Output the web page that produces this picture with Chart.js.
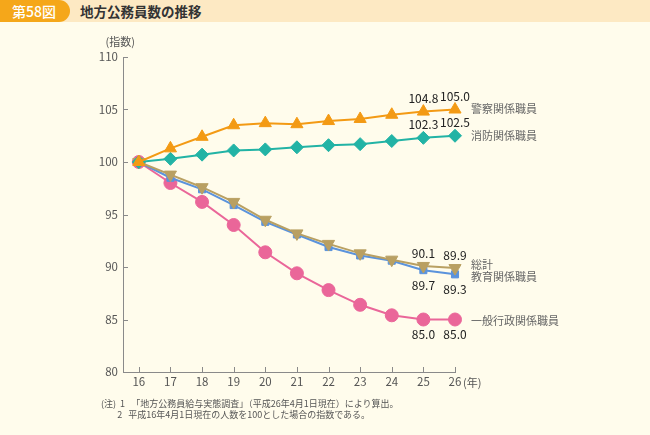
<!DOCTYPE html>
<html lang="ja">
<head>
<meta charset="utf-8">
<script src="https://cdn.jsdelivr.net/npm/chart.js@4/dist/chart.umd.min.js"></script>
<style>
  html, body { margin: 0; padding: 0; background: #fffcec; }
  body { width: 650px; height: 435px; position: relative; overflow: hidden;
         font-family: "Noto Sans CJK JP", "Noto Sans", sans-serif; }
  #band { position: absolute; left: 0; top: 0; width: 650px; height: 22px; background: #fde9c3; }
  #tab { position: absolute; left: 0; top: 0; width: 70px; height: 22px; background: #f5a71a;
         border-radius: 0 11px 11px 0; color: #fff; font-size: 14px; font-weight: 500;
         line-height: 22px; padding-left: 12px; box-sizing: border-box; }
  #title { position: absolute; left: 80px; top: 0; line-height: 22px; font-size: 13.5px;
           font-weight: bold; color: #333; }
  #wrap { position: absolute; left: 0; top: 0; width: 650px; height: 435px; }
  .note { position: absolute; font-size: 9px; line-height: 10px; color: #555; white-space: pre; }
</style>
</head>
<body>
<div id="band"></div>
<div id="tab">第58図</div>
<div id="title">地方公務員数の推移</div>
<div id="wrap"><canvas id="chart" width="650" height="435"></canvas></div>
<div class="note" style="left:101px; top:399px;">(注)  1   「地方公務員給与実態調査」（平成26年4月1日現在）により算出。</div>
<div class="note" style="left:101px; top:410px;">        2   平成16年4月1日現在の人数を100とした場合の指数である。</div>
<script>
// data
var years = [16, 17, 18, 19, 20, 21, 22, 23, 24, 25, 26];
var yTicks = [80, 85, 90, 95, 100, 105, 110];
var police = [100, 101.3, 102.4, 103.5, 103.7, 103.6, 103.9, 104.1, 104.5, 104.8, 105.0];
var fire = [100, 100.3, 100.7, 101.1, 101.2, 101.4, 101.6, 101.7, 102.0, 102.3, 102.5];
var total = [100, 98.8, 97.6, 96.2, 94.5, 93.2, 92.2, 91.3, 90.7, 90.1, 89.9];
var education = [100, 98.5, 97.4, 95.9, 94.3, 93.1, 91.9, 91.1, 90.6, 89.7, 89.3];
var general = [100, 98.0, 96.2, 94.0, 91.4, 89.4, 87.8, 86.4, 85.4, 85.0, 85.0];
var seriesNames = ['警察関係職員', '消防関係職員', '総計', '教育関係職員', '一般行政関係職員'];

function pts(arr) {
    return arr.map(function (v, i) { return { x: years[i], y: v }; });
}

var axisColor = '#8a8a8a';

// small inward ticks on both axes
var innerTicks = {
    id: 'innerTicks',
    afterDraw: function (chart) {
        var ctx = chart.ctx, xs = chart.scales.x, ys = chart.scales.y;
        var area = chart.chartArea;
        ctx.save();
        ctx.strokeStyle = axisColor;
        ctx.lineWidth = 1;
        ctx.beginPath();
        years.forEach(function (v) {
            var px = Math.round(xs.getPixelForValue(v)) + 0.5;
            ctx.moveTo(px, area.bottom);
            ctx.lineTo(px, area.bottom - 5);
        });
        yTicks.forEach(function (v) {
            var py = Math.round(ys.getPixelForValue(v)) + 0.5;
            ctx.moveTo(area.left, py);
            ctx.lineTo(area.left + 5, py);
        });
        ctx.stroke();
        ctx.fillStyle = '#555';
        ctx.font = '11px "Noto Sans CJK JP"';
        ctx.textAlign = 'right';
        ctx.textBaseline = 'middle';
        ctx.fillText('(指数)', area.left + 12, area.top - 15);
        ctx.textAlign = 'left';
        ctx.fillText('(年)', area.right + 8, area.bottom + 11);
        ctx.restore();
    }
};

// value labels at the last two points and series names on the right
var labelsPlugin = {
    id: 'labelsPlugin',
    afterDatasetsDraw: function (chart) {
        var ctx = chart.ctx;
        ctx.save();
        ctx.textBaseline = 'middle';
        chart.data.datasets.forEach(function (ds, i) {
            var meta = chart.getDatasetMeta(i);
            var n = meta.data.length;
            ctx.font = '12px "Noto Sans CJK JP"';
            ctx.textAlign = 'center';
            [n - 2, n - 1].forEach(function (j) {
                var p = meta.data[j];
                var off = ds.labelBelow ? 15 : -13;
                ctx.fillStyle = '#222';
                ctx.fillText(ds.data[j].y.toFixed(1), p.x, p.y + off);
            });
            var last = meta.data[n - 1];
            ctx.fillStyle = '#666';
            ctx.font = '11px "Noto Sans CJK JP"';
            ctx.textAlign = 'left';
            ctx.fillText(ds.label, last.x + 16, last.y + ds.nameShift);
        });
        ctx.restore();
    }
};

function makeSet(name, arr, color, style, rot, radius, below, shift, order) {
    return {
        label: name,
        data: pts(arr),
        borderColor: color,
        backgroundColor: color,
        borderWidth: 2,
        pointStyle: style,
        rotation: rot,
        pointRadius: radius,
        pointBorderColor: color,
        pointBorderWidth: 1,
        labelBelow: below,
        nameShift: shift,
        order: order,
        clip: false
    };
}

new Chart(document.getElementById('chart'), {
    type: 'line',
    data: {
        datasets: [
            makeSet(seriesNames[0], police, '#f39a14', 'triangle', 0, 7, false, -1, 1),
            makeSet(seriesNames[1], fire, '#22b3a5', 'rectRot', 0, 6.5, false, 0, 2),
            makeSet(seriesNames[2], total, '#b9a062', 'triangle', 180, 7, false, -3, 3),
            makeSet(seriesNames[3], education, '#5b93dc', 'rect', 0, 5, true, 2, 4),
            makeSet(seriesNames[4], general, '#ea6699', 'circle', 0, 6.5, true, 1, 5)
        ]
    },
    options: {
        responsive: false,
        animation: false,
        events: [],
        layout: { padding: { left: 0, right: 195, top: 57, bottom: 0 } },
        plugins: { legend: { display: false }, tooltip: { enabled: false } },
        scales: {
            x: {
                type: 'linear',
                min: 15.5,
                max: 26,
                afterBuildTicks: function (scale) {
                    scale.ticks = years.map(function (v) { return { value: v }; });
                },
                afterFit: function (scale) { scale.height = 435 - 372; },
                grid: { display: false, drawTicks: false },
                border: { color: axisColor, width: 1 },
                ticks: { color: '#555', font: { size: 11.5, family: 'Noto Sans CJK JP' }, padding: 3, maxRotation: 0 }
            },
            y: {
                min: 80,
                max: 110,
                afterBuildTicks: function (scale) {
                    scale.ticks = yTicks.map(function (v) { return { value: v }; });
                },
                afterFit: function (scale) { scale.width = 123; },
                grid: { display: false, drawTicks: false },
                border: { color: axisColor, width: 1 },
                ticks: { color: '#555', font: { size: 11.5, family: 'Noto Sans CJK JP' }, padding: 5 }
            }
        }
    },
    plugins: [innerTicks, labelsPlugin]
});
</script>
</body>
</html>
